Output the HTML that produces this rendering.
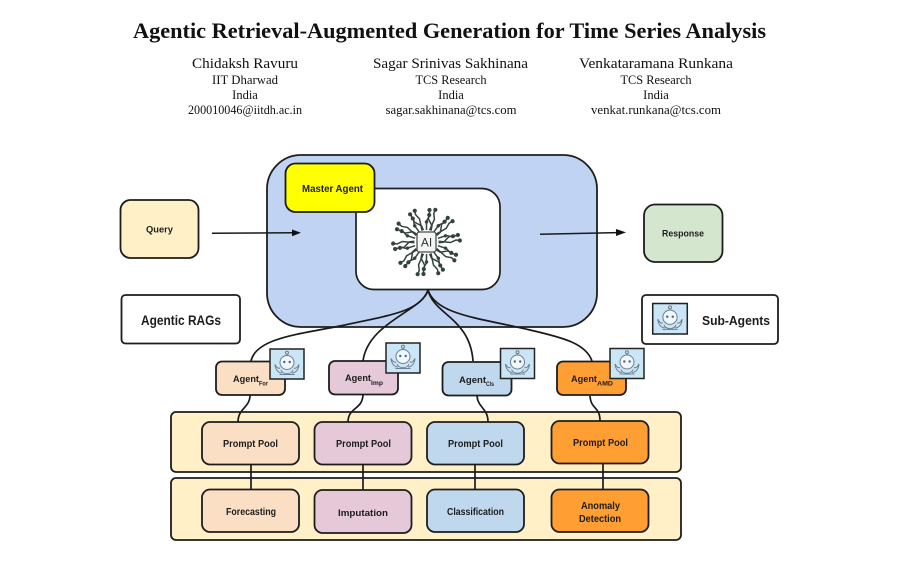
<!DOCTYPE html>
<html lang="en">
<head>
<meta charset="utf-8">
<title>Agentic Retrieval-Augmented Generation for Time Series Analysis</title>
<style>
html,body{margin:0;padding:0;background:#fff;width:900px;height:565px;overflow:hidden}
svg{display:block}
.t{font-family:"Liberation Serif",serif;fill:#111}
.s{font-family:"Liberation Sans",sans-serif;font-weight:700;fill:#1c1c1c}
.b{stroke:#1d1d1d;stroke-width:1.8}
.c{fill:none;stroke:#1a1a1a;stroke-width:1.7}
</style>
</head>
<body>
<svg width="900" height="565" viewBox="0 0 900 565" xmlns="http://www.w3.org/2000/svg">
<defs>
<symbol id="bot" viewBox="0 0 34 30" overflow="visible">
<rect x="0" y="0" width="34" height="30" fill="#c9e5f6" stroke="#222" stroke-width="1.500"/>
<g fill="none" stroke="#6f7f8c" stroke-width="1">
<circle cx="17" cy="3.800" r="1.500"/>
<path d="M17 5.300V7"/>
<circle cx="17" cy="13.500" r="7" fill="#eef7fc"/>
<path d="M10 19C7.500 20 6.500 18 5 15.500C5.500 21 8.500 24 12 24M24 19C26.500 20 27.500 18 29 15.500C28.500 21 25.500 24 22 24M11 21C13 26 21 26 23 21M9.500 25.500H24.500"/>
</g>
<circle cx="14.300" cy="13" r="1.200" fill="#56636e"/>
<circle cx="19.700" cy="13" r="1.200" fill="#56636e"/>
</symbol>
<g id="a1" fill="none" stroke="#33433f" stroke-width="1.500"><path d="M0-12V-21L3-26V-31"/><circle cx="3" cy="-32" r="2.100" fill="#33433f" stroke="none"/><circle cx="0" cy="-20" r="1.700" fill="#33433f" stroke="none"/></g>
<g id="a2" fill="none" stroke="#33433f" stroke-width="1.500"><path d="M2-12V-17L-3-23V-26"/><circle cx="-3" cy="-27" r="2.100" fill="#33433f" stroke="none"/></g>
<g id="a3" fill="none" stroke="#33433f" stroke-width="1.500"><path d="M-2-12V-24L-5-29V-32"/><circle cx="-5" cy="-33" r="2.100" fill="#33433f" stroke="none"/></g>
<g id="tri"><use href="#a1"/><use href="#a2" transform="rotate(12)"/><use href="#a3" transform="rotate(24)"/></g>
</defs>

<rect width="900" height="565" fill="#fff"/>

<!-- header -->
<text class="t" x="449.500" y="38" text-anchor="middle" font-size="22" font-weight="700" textLength="633" lengthAdjust="spacingAndGlyphs" fill="#0c0c0c">Agentic Retrieval-Augmented Generation for Time Series Analysis</text>

<g font-size="15" text-anchor="middle">
<text class="t" x="245" y="68" textLength="106" lengthAdjust="spacingAndGlyphs">Chidaksh Ravuru</text>
<text class="t" x="450.500" y="68" textLength="155" lengthAdjust="spacingAndGlyphs">Sagar Srinivas Sakhinana</text>
<text class="t" x="656" y="68" textLength="154" lengthAdjust="spacingAndGlyphs">Venkataramana Runkana</text>
</g>
<g font-size="12.500" text-anchor="middle">
<text class="t" x="245" y="84" textLength="66" lengthAdjust="spacingAndGlyphs">IIT Dharwad</text>
<text class="t" x="245" y="99">India</text>
<text class="t" x="245" y="114" textLength="114" lengthAdjust="spacingAndGlyphs">200010046@iitdh.ac.in</text>
<text class="t" x="451" y="84" textLength="71" lengthAdjust="spacingAndGlyphs">TCS Research</text>
<text class="t" x="451" y="99">India</text>
<text class="t" x="451" y="114" textLength="131" lengthAdjust="spacingAndGlyphs">sagar.sakhinana@tcs.com</text>
<text class="t" x="656" y="84" textLength="71" lengthAdjust="spacingAndGlyphs">TCS Research</text>
<text class="t" x="656" y="99">India</text>
<text class="t" x="656" y="114" textLength="130" lengthAdjust="spacingAndGlyphs">venkat.runkana@tcs.com</text>
</g>

<!-- main container -->
<rect x="267" y="155" width="330" height="172" rx="34" fill="#c0d3f3" stroke="#1d1d1d" stroke-width="1.800"/>
<rect x="356" y="188.500" width="144" height="101" rx="18" fill="#fff" stroke="#1d1d1d" stroke-width="1.700"/>
<rect x="285.500" y="163.500" width="89" height="48.500" rx="10" fill="#ffff00" class="b"/>
<text class="s" x="332.500" y="192" text-anchor="middle" font-size="10" textLength="61" lengthAdjust="spacingAndGlyphs">Master Agent</text>

<!-- AI emblem -->
<g transform="translate(426.500 242)">
<use href="#tri" transform="rotate(0)"/><use href="#tri" transform="rotate(36)"/><use href="#tri" transform="rotate(72)"/>
<use href="#tri" transform="rotate(108)"/><use href="#tri" transform="rotate(144)"/><use href="#tri" transform="rotate(180)"/>
<use href="#tri" transform="rotate(216)"/><use href="#tri" transform="rotate(252)"/><use href="#tri" transform="rotate(288)"/>
<use href="#tri" transform="rotate(324)"/>
<rect x="-9.500" y="-10" width="19" height="20" rx="2.500" fill="#f5f5f5" stroke="#44524e" stroke-width="1.300"/>
<text x="0" y="4.500" text-anchor="middle" font-family="Liberation Sans, sans-serif" font-size="12" fill="#333">AI</text>
</g>

<!-- query and response -->
<rect x="120.500" y="200" width="78" height="58" rx="10" fill="#fff0c8" class="b"/>
<text class="s" x="159.500" y="232.500" text-anchor="middle" font-size="9.500" textLength="27" lengthAdjust="spacingAndGlyphs">Query</text>
<rect x="644" y="204.500" width="78.500" height="57.500" rx="11" fill="#d5e6cf" class="b"/>
<text class="s" x="683" y="236.500" text-anchor="middle" font-size="9.500" textLength="42" lengthAdjust="spacingAndGlyphs">Response</text>

<path d="M212 233.300L293 232.800" stroke="#1a1a1a" stroke-width="1.500" fill="none"/>
<path d="M301 232.800L292 229.500V236.200Z" fill="#111"/>
<path d="M540 234.300L617 232.600" stroke="#1a1a1a" stroke-width="1.500" fill="none"/>
<path d="M626 232.400L616 229V236Z" fill="#111"/>

<!-- legend boxes -->
<rect x="121.500" y="295" width="118.500" height="48.500" rx="4" fill="#fff" class="b"/>
<text class="s" x="181" y="325" text-anchor="middle" font-size="13.500" textLength="80" lengthAdjust="spacingAndGlyphs">Agentic RAGs</text>
<rect x="642" y="295" width="136" height="49" rx="4" fill="#fff" class="b"/>
<use href="#bot" x="651" y="303.500" width="38" height="30.500"/>
<text class="s" x="736" y="325" text-anchor="middle" font-size="13" textLength="68" lengthAdjust="spacingAndGlyphs">Sub-Agents</text>

<!-- bands -->
<rect x="171" y="412" width="510" height="60" rx="5" fill="#fff0c8" class="b"/>
<rect x="171" y="478" width="510" height="62" rx="5" fill="#fff0c8" class="b"/>

<!-- connectors -->
<g class="c">
<path d="M428 290C420 312 390 315 340 326C300 334 256 338 251 361"/>
<path d="M428 290C424 310 368 322 363 361"/>
<path d="M428 290C434 315 470 318 473 361"/>
<path d="M428 290C436 315 480 318 530 330C565 338 586 344 592 361"/>
<path d="M250 395C250 408 238 408 238 422"/>
<path d="M363 394C363 410 348 407 348 422"/>
<path d="M477 396C478 408 488 408 488 422"/>
<path d="M590 396C591 410 600 406 600 421"/>
<path d="M251 464V489M363 464V490M475 464V489M603 463V489"/>
</g>

<!-- agents -->
<rect x="216" y="361.500" width="69" height="33.500" rx="6" fill="#fbdfc5" class="b"/>
<rect x="329" y="361" width="69" height="33.500" rx="6" fill="#e6c9d8" class="b"/>
<rect x="442.500" y="362" width="69" height="33.500" rx="6" fill="#c0d8ee" class="b"/>
<rect x="557" y="361.500" width="69" height="33.500" rx="6" fill="#ff9f33" class="b"/>

<g font-size="9.500">
<text class="s" x="233" y="382" textLength="26" lengthAdjust="spacingAndGlyphs">Agent</text>
<text class="s" x="259" y="385.500" font-size="6" textLength="9" lengthAdjust="spacingAndGlyphs">For</text>
<text class="s" x="345" y="381" textLength="26" lengthAdjust="spacingAndGlyphs">Agent</text>
<text class="s" x="371" y="385" font-size="6" textLength="12" lengthAdjust="spacingAndGlyphs">Imp</text>
<text class="s" x="459" y="383" textLength="27" lengthAdjust="spacingAndGlyphs">Agent</text>
<text class="s" x="486" y="386" font-size="6" textLength="8" lengthAdjust="spacingAndGlyphs">Cls</text>
<text class="s" x="571" y="382" textLength="26" lengthAdjust="spacingAndGlyphs">Agent</text>
<text class="s" x="597" y="385.500" font-size="6" textLength="16" lengthAdjust="spacingAndGlyphs">AMD</text>
</g>

<use href="#bot" x="270" y="349" width="34" height="30"/>
<use href="#bot" x="386" y="343" width="34" height="30"/>
<use href="#bot" x="500.500" y="348.500" width="34" height="30"/>
<use href="#bot" x="610" y="348.500" width="34" height="30"/>

<!-- prompt pools -->
<rect x="202" y="422" width="97" height="42.500" rx="8" fill="#fbdfc5" class="b"/>
<rect x="314.500" y="422" width="97" height="42.500" rx="8" fill="#e6c9d8" class="b"/>
<rect x="427" y="422" width="97" height="42.500" rx="8" fill="#c0d8ee" class="b"/>
<rect x="551.500" y="421" width="97" height="42.500" rx="8" fill="#ff9f33" class="b"/>
<g font-size="10" text-anchor="middle">
<text class="s" x="250.500" y="447" textLength="55" lengthAdjust="spacingAndGlyphs">Prompt Pool</text>
<text class="s" x="363.500" y="447" textLength="55" lengthAdjust="spacingAndGlyphs">Prompt Pool</text>
<text class="s" x="475.500" y="447" textLength="55" lengthAdjust="spacingAndGlyphs">Prompt Pool</text>
<text class="s" x="600.500" y="446" textLength="55" lengthAdjust="spacingAndGlyphs">Prompt Pool</text>
</g>

<!-- tasks -->
<rect x="202" y="489.500" width="97" height="42.500" rx="8" fill="#fbdfc5" class="b"/>
<rect x="314.500" y="490" width="97" height="43" rx="8" fill="#e6c9d8" class="b"/>
<rect x="427" y="489.500" width="97" height="42.500" rx="8" fill="#c0d8ee" class="b"/>
<rect x="551.500" y="489.500" width="97" height="42.500" rx="8" fill="#ff9f33" class="b"/>
<g font-size="10" text-anchor="middle">
<text class="s" x="251" y="515" textLength="50" lengthAdjust="spacingAndGlyphs">Forecasting</text>
<text class="s" x="363" y="516" font-size="9.500" textLength="50" lengthAdjust="spacingAndGlyphs">Imputation</text>
<text class="s" x="475.500" y="515" textLength="57" lengthAdjust="spacingAndGlyphs">Classification</text>
<text class="s" x="600.500" y="509" textLength="39" lengthAdjust="spacingAndGlyphs">Anomaly</text>
<text class="s" x="600" y="522" textLength="42" lengthAdjust="spacingAndGlyphs">Detection</text>
</g>
</svg>
</body>
</html>
